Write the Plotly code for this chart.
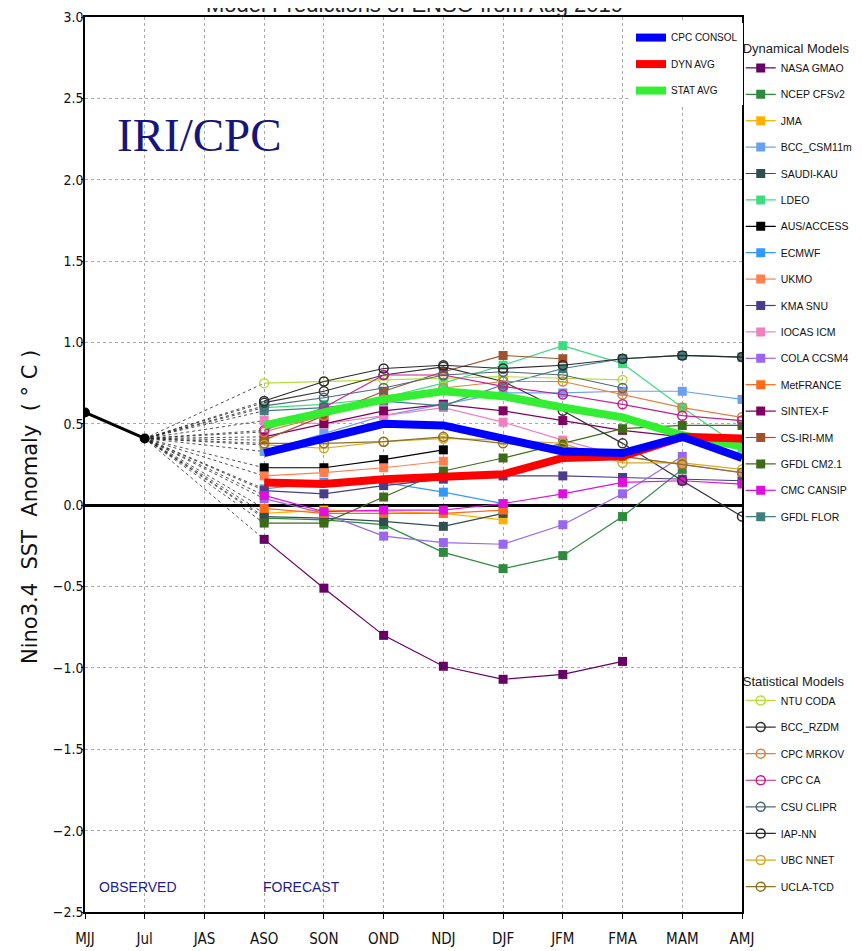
import plotly.graph_objects as go

# ---------------- data ----------------
seasons = ["MJJ", "Jul", "JAS", "ASO", "SON", "OND", "NDJ", "DJF", "JFM", "FMA", "MAM", "AMJ"]
observed_seasons = ["MJJ", "Jul"]
observed = [0.57, 0.41]
forecast_seasons = ["ASO", "SON", "OND", "NDJ", "DJF", "JFM", "FMA", "MAM", "AMJ"]

cpc_consol = [0.32, 0.41, 0.50, 0.49, 0.41, 0.33, 0.32, 0.42, 0.29]
dyn_avg = [0.14, 0.13, 0.16, 0.18, 0.19, 0.29, 0.30, 0.42, 0.41]
stat_avg = [0.49, 0.57, 0.65, 0.70, 0.67, 0.60, 0.54, 0.43, 0.36]

# dynamical models
nasa_gmao = [-0.21, -0.51, -0.80, -0.99, -1.07, -1.04, -0.96, None, None]
ncep_cfsv2 = [-0.08, -0.09, -0.12, -0.29, -0.39, -0.31, -0.07, 0.22, None]
jma = [-0.05, -0.03, -0.04, -0.05, -0.09, None, None, None, None]
bcc_csm11m = [0.33, 0.44, 0.55, 0.62, 0.69, 0.69, 0.70, 0.70, 0.65]
saudi_kau = [-0.07, -0.08, -0.10, -0.13, -0.05, None, None, None, None]
ldeo = [0.60, 0.62, 0.66, 0.75, 0.86, 0.98, 0.87, 0.60, 0.35]
aus_access = [0.23, 0.23, 0.28, 0.34, None, None, None, None, None]
ecmwf = [0.10, 0.14, 0.14, 0.08, 0.01, None, None, None, None]
ukmo = [0.18, 0.20, 0.23, 0.27, None, None, None, None, None]
kma_snu = [0.09, 0.07, 0.12, 0.16, 0.18, 0.18, 0.17, 0.16, 0.15]
iocas_icm = [0.52, 0.50, 0.55, 0.60, 0.51, 0.40, 0.30, 0.25, 0.20]
cola_ccsm4 = [0.04, -0.05, -0.19, -0.23, -0.24, -0.12, 0.07, 0.30, None]
metfrance = [-0.02, -0.05, -0.05, -0.05, -0.03, None, None, None, None]
sintex_f = [0.42, 0.50, 0.58, 0.62, 0.58, 0.52, 0.46, 0.42, 0.38]
cs_iri_mm = [0.40, 0.55, 0.70, 0.82, 0.92, 0.90, None, None, None]
gfdl_cm21 = [-0.11, -0.11, 0.05, 0.21, 0.29, 0.38, 0.47, 0.49, 0.49]
cmc_cansip = [0.06, -0.04, -0.03, -0.03, 0.01, 0.07, 0.14, 0.15, 0.13]
gfdl_flor = [0.58, 0.60, 0.64, 0.61, 0.74, 0.84, 0.90, 0.92, 0.91]

# statistical models
ntu_coda = [0.75, 0.76, 0.77, 0.78, 0.79, 0.78, 0.77, None, None]
bcc_rzdm = [0.63, 0.70, 0.80, 0.85, 0.76, 0.58, 0.38, 0.15, -0.07]
cpc_mrkov = [0.45, 0.55, 0.65, 0.72, 0.76, 0.76, 0.68, 0.60, 0.54]
cpc_ca = [0.46, 0.60, 0.80, 0.80, 0.73, 0.68, 0.62, 0.55, 0.52]
csu_clipr = [0.61, 0.66, 0.72, 0.80, 0.82, 0.80, 0.72, None, None]
iap_nn = [0.64, 0.76, 0.84, 0.86, 0.84, 0.86, 0.90, 0.92, 0.91]
ubc_nnet = [0.37, 0.35, 0.39, 0.41, 0.40, 0.38, 0.26, 0.26, 0.22]
ucla_tcd = [0.38, 0.38, 0.39, 0.42, 0.38, 0.36, 0.30, 0.25, 0.20]

dynamical = [
    ("NASA GMAO", nasa_gmao, "#660066"),
    ("NCEP CFSv2", ncep_cfsv2, "#2E8B3E"),
    ("JMA", jma, "#FFB000"),
    ("BCC_CSM11m", bcc_csm11m, "#6CA0EE"),
    ("SAUDI-KAU", saudi_kau, "#2F4F4F"),
    ("LDEO", ldeo, "#3CDC80"),
    ("AUS/ACCESS", aus_access, "#000000"),
    ("ECMWF", ecmwf, "#3399FF"),
    ("UKMO", ukmo, "#FF7F50"),
    ("KMA SNU", kma_snu, "#483D8B"),
    ("IOCAS ICM", iocas_icm, "#F080C0"),
    ("COLA CCSM4", cola_ccsm4, "#9966EE"),
    ("MetFRANCE", metfrance, "#FF6A1A"),
    ("SINTEX-F", sintex_f, "#800060"),
    ("CS-IRI-MM", cs_iri_mm, "#A0522D"),
    ("GFDL CM2.1", gfdl_cm21, "#3D6B1A"),
    ("CMC CANSIP", cmc_cansip, "#DD10DD"),
    ("GFDL FLOR", gfdl_flor, "#3F7F7F"),
]
statistical = [
    ("NTU CODA", ntu_coda, "#B8DC3C"),
    ("BCC_RZDM", bcc_rzdm, "#333333"),
    ("CPC MRKOV", cpc_mrkov, "#E08040"),
    ("CPC CA", cpc_ca, "#C0208F"),
    ("CSU CLIPR", csu_clipr, "#506878"),
    ("IAP-NN", iap_nn, "#2A2A2A"),
    ("UBC NNET", ubc_nnet, "#D4A82A"),
    ("UCLA-TCD", ucla_tcd, "#8B7322"),
]

LEGFONT = "Liberation Sans Narrow, Liberation Sans, Arial Narrow, sans-serif"

fig = go.Figure()

# dotted connectors from last observation to first forecast
for name, vals, col in dynamical + statistical:
    fig.add_trace(go.Scatter(
        x=[observed_seasons[-1], forecast_seasons[0]], y=[observed[-1], vals[0]],
        mode="lines", line=dict(color="#222222", width=0.8, dash="dot"),
        showlegend=False, hoverinfo="skip"))

# observed
fig.add_trace(go.Scatter(
    x=observed_seasons, y=observed, mode="lines+markers",
    line=dict(color="black", width=3), marker=dict(symbol="circle", size=10, color="black"),
    showlegend=False))

for i, (name, vals, col) in enumerate(dynamical):
    fig.add_trace(go.Scatter(
        x=forecast_seasons, y=vals, name=name, mode="lines+markers",
        line=dict(color=col, width=1.2),
        marker=dict(symbol="square", size=9, color=col),
        legend="legend2", legendgroup="d%d" % i))

for i, (name, vals, col) in enumerate(statistical):
    fig.add_trace(go.Scatter(
        x=forecast_seasons, y=vals, name=name, mode="lines+markers",
        line=dict(color=col, width=1.2),
        marker=dict(symbol="circle-open", size=9, color=col, line=dict(width=1.5)),
        legend="legend3", legendgroup="s%d" % i))

for rank, (name, vals, col) in [(3, ("STAT AVG", stat_avg, "#33EE33")),
                                (2, ("DYN AVG", dyn_avg, "#FF0000")),
                                (1, ("CPC CONSOL", cpc_consol, "#0000FF"))]:
    fig.add_trace(go.Scatter(
        x=forecast_seasons, y=vals, name=name, mode="lines",
        line=dict(color=col, width=8), legend="legend", legendgroup=name, legendrank=rank))

fig.update_layout(
    width=854, height=943,
    margin=dict(l=77, r=120, t=9, b=39, autoexpand=False),
    paper_bgcolor="white", plot_bgcolor="white",
    font=dict(family="DejaVu Sans, sans-serif", color="#111111"),
    legend=dict(xref="container", yref="container", x=0.7295, y=0.984,
                xanchor="left", yanchor="top", bgcolor="white",
                font=dict(size=10, family=LEGFONT, color="#111111"),
                traceorder="grouped", tracegroupgap=7.5, itemwidth=30),
    legend2=dict(xref="container", yref="container", x=0.858, y=0.9698,
                 xanchor="left", yanchor="top", bgcolor="rgba(0,0,0,0)", maxheight=700,
                 title=dict(text="Dynamical Models", font=dict(size=13, family=LEGFONT, color="#222222")),
                 font=dict(size=10.5, family=LEGFONT, color="#111111"),
                 tracegroupgap=7.4, itemwidth=30),
    legend3=dict(xref="container", yref="container", x=0.858, y=0.299,
                 xanchor="left", yanchor="top", bgcolor="rgba(0,0,0,0)", maxheight=400,
                 title=dict(text="Statistical Models", font=dict(size=13, family=LEGFONT, color="#222222")),
                 font=dict(size=10.5, family=LEGFONT, color="#111111"),
                 tracegroupgap=7.6, itemwidth=30),
    xaxis=dict(type="category", categoryorder="array", categoryarray=seasons, automargin=False,
               range=[0, len(seasons) - 1], showgrid=True, gridcolor="#AAAAAA", griddash="dot",
               gridwidth=1, showline=True, linecolor="black", linewidth=1.5, mirror=True,
               ticks="outside", ticklen=5, tickcolor="black", ticklabelstandoff=7,
               tickfont=dict(size=15, family="DejaVu Sans Condensed, DejaVu Sans", color="#111111")),
    yaxis=dict(range=[-2.5, 3.0], dtick=0.5, tickformat=".1f", showgrid=True, automargin=False,
               gridcolor="#AAAAAA", griddash="dot", gridwidth=1,
               zeroline=True, zerolinecolor="black", zerolinewidth=3,
               showline=True, linecolor="black", linewidth=1.5, mirror=True,
               ticks="outside", ticklen=2, tickcolor="black", ticklabelstandoff=-5,
               tickfont=dict(size=14, family="DejaVu Sans Condensed, DejaVu Sans", color="#111111")),
)

# chart title (partly above the top edge, as in the original)
fig.add_annotation(x=0.502, y=1.0142, xref="paper", yref="paper", xanchor="center", yanchor="middle",
                   text="Model Predictions of ENSO from Aug 2019", showarrow=False,
                   font=dict(size=22, family="Liberation Sans, sans-serif", color="#222222"))
# y-axis title
fig.add_annotation(x=-0.0837, y=0.4525, xref="paper", yref="paper", xanchor="center", yanchor="middle",
                   text="Nino3.4  SST  Anomaly  ( ° C )", textangle=-90, showarrow=False,
                   font=dict(size=21, family="DejaVu Sans, sans-serif", color="#111111"))
fig.add_annotation(x=0.175, y=0.868, xref="paper", yref="paper", xanchor="center", yanchor="middle",
                   text="IRI/CPC", showarrow=False,
                   font=dict(size=47, family="Liberation Serif, Times New Roman, serif", color="#15157A"))
fig.add_annotation(x=0.081, y=0.028, xref="paper", yref="paper", xanchor="center", yanchor="middle",
                   text="OBSERVED", showarrow=False,
                   font=dict(size=14, family=LEGFONT, color="#1C1C8C"))
fig.add_annotation(x=0.330, y=0.028, xref="paper", yref="paper", xanchor="center", yanchor="middle",
                   text="FORECAST", showarrow=False,
                   font=dict(size=14, family=LEGFONT, color="#1C1C8C"))

fig.write_html("out.html")
